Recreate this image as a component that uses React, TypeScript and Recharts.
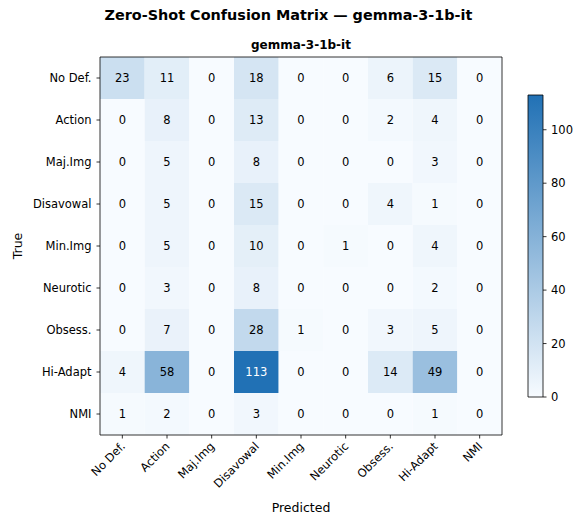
import React from 'react';
import { ComposedChart, XAxis, YAxis, ReferenceArea, Scatter } from 'recharts';

const classes = ['No Def.', 'Action', 'Maj.Img', 'Disavowal', 'Min.Img', 'Neurotic', 'Obsess.', 'Hi-Adapt', 'NMI'];

const rowNoDef = [23, 11, 0, 18, 0, 0, 6, 15, 0];
const rowAction = [0, 8, 0, 13, 0, 0, 2, 4, 0];
const rowMajImg = [0, 5, 0, 8, 0, 0, 0, 3, 0];
const rowDisavowal = [0, 5, 0, 15, 0, 0, 4, 1, 0];
const rowMinImg = [0, 5, 0, 10, 0, 1, 0, 4, 0];
const rowNeurotic = [0, 3, 0, 8, 0, 0, 0, 2, 0];
const rowObsess = [0, 7, 0, 28, 1, 0, 3, 5, 0];
const rowHiAdapt = [4, 58, 0, 113, 0, 0, 14, 49, 0];
const rowNMI = [1, 2, 0, 3, 0, 0, 0, 1, 0];

const matrix = [rowNoDef, rowAction, rowMajImg, rowDisavowal, rowMinImg, rowNeurotic, rowObsess, rowHiAdapt, rowNMI];
const colorbarTicks = [0, 20, 40, 60, 80, 100];
const vmax = 113;
const colorbarExtent = [{ x: 0, y: 0 }, { x: 1, y: vmax }];

const W = 577;
const H = 519;
const plotLeft = 100;
const plotRight = 502;
const plotTop = 57;
const plotBottom = 435;
const cbLeft = 528;
const cbRight = 543;
const cbTop = 95;
const cbBottom = 397;

const FONT = 'DejaVu Sans, Verdana, sans-serif';
const TICK_FS = 11.5;
const lowColor = [247, 251, 255];
const highColor = [33, 113, 181];

function colorFor(v: number) {
  const t = Math.max(0, Math.min(1, v / vmax));
  const c = lowColor.map((l, i) => Math.round(l + (highColor[i] - l) * t));
  return `rgb(${c[0]},${c[1]},${c[2]})`;
}

const cells = matrix.flatMap((row, i) => row.map((v, j) => ({ x: j, y: i, v })));
const indices = classes.map((_, i) => i);

const XTick = (props: any) => {
  const { x, payload } = props;
  const ax = x + 3.5;
  const ay = plotBottom + 12;
  return (
    <text x={ax} y={ay} textAnchor="end" fontSize={TICK_FS} fontFamily={FONT} fill="#000"
      transform={`rotate(-45, ${ax}, ${ay})`}>
      {classes[payload.value]}
    </text>
  );
};

const YTick = (props: any) => {
  const { y, payload } = props;
  return (
    <text x={plotLeft - 8.5} y={y} textAnchor="end" dominantBaseline="central" fontSize={TICK_FS} fontFamily={FONT} fill="#000">
      {classes[payload.value]}
    </text>
  );
};

const CbTick = (props: any) => {
  const { y, payload } = props;
  return (
    <text x={cbRight + 8} y={y} textAnchor="start" dominantBaseline="central" fontSize={TICK_FS} fontFamily={FONT} fill="#000">
      {payload.value}
    </text>
  );
};

const CellLabel = (props: any) => {
  const { cx, cy, payload } = props;
  return (
    <text x={cx} y={cy} textAnchor="middle" dominantBaseline="central" fontSize={TICK_FS} fontFamily={FONT}
      fill={payload.v > 70 ? '#fff' : '#000'}>
      {payload.v}
    </text>
  );
};

const Nothing = () => <g />;

export default function App() {
  return (
    <div style={{ position: 'absolute', left: 0, top: 0, width: W, height: H, background: '#fff', fontFamily: FONT }}>
      <div style={{ position: 'absolute', left: 0, top: 0 }}>
        <ComposedChart width={W} height={H}
          margin={{ top: plotTop, left: 0, right: W - plotRight, bottom: 0 }}>
          <XAxis type="number" dataKey="x" domain={[-0.5, 8.5]} ticks={indices} height={H - plotBottom}
            axisLine={false} tickSize={3.5} tickLine={{ stroke: '#000', strokeWidth: 0.8 }} tick={<XTick />}
            interval={0} allowDataOverflow />
          <YAxis type="number" dataKey="y" domain={[-0.5, 8.5]} ticks={indices} reversed width={plotLeft}
            axisLine={false} tickSize={3.5} tickLine={{ stroke: '#000', strokeWidth: 0.8 }} tick={<YTick />}
            interval={0} allowDataOverflow />
          {cells.map((c) => (
            <ReferenceArea key={`${c.x}-${c.y}`} x1={c.x - 0.5} x2={c.x + 0.5} y1={c.y - 0.5} y2={c.y + 0.5}
              fill={colorFor(c.v)} fillOpacity={1} stroke="none" ifOverflow="visible" />
          ))}
          <ReferenceArea x1={-0.5} x2={8.5} y1={-0.5} y2={8.5} fill="none" stroke="#000" strokeWidth={0.8} ifOverflow="visible" />
          <Scatter data={cells} isAnimationActive={false} shape={<CellLabel />} />
        </ComposedChart>
      </div>
      <div style={{ position: 'absolute', left: 0, top: 0 }}>
        <ComposedChart width={W} height={H}
          margin={{ top: cbTop, left: cbLeft, right: 0, bottom: 0 }}>
          <defs>
            <linearGradient id="cbGrad" x1="0" y1="1" x2="0" y2="0">
              <stop offset="0%" stopColor={colorFor(0)} />
              <stop offset="100%" stopColor={colorFor(vmax)} />
            </linearGradient>
          </defs>
          <XAxis type="number" dataKey="x" domain={[0, 1]} height={H - cbBottom} tick={false} axisLine={false} tickLine={false} />
          <YAxis type="number" dataKey="y" domain={[0, vmax]} ticks={colorbarTicks} orientation="right"
            width={W - cbRight} axisLine={false} tickSize={3.5} tickLine={{ stroke: '#000', strokeWidth: 0.8 }}
            tick={<CbTick />} interval={0} allowDataOverflow />
          <ReferenceArea x1={0} x2={1} y1={0} y2={vmax} fill="url(#cbGrad)" fillOpacity={1} stroke="#000" strokeWidth={0.8} ifOverflow="visible" />
          <Scatter data={colorbarExtent} isAnimationActive={false} shape={<Nothing />} />
        </ComposedChart>
      </div>
      <svg width={W} height={H} style={{ position: 'absolute', left: 0, top: 0, pointerEvents: 'none' }}>
        <text x={288.5} y={15} textAnchor="middle" dominantBaseline="central" fontSize={14.4} fontWeight="bold" fontFamily={FONT} fill="#000">
          Zero-Shot Confusion Matrix — gemma-3-1b-it
        </text>
        <text x={(plotLeft + plotRight) / 2} y={45} textAnchor="middle" dominantBaseline="central" fontSize={12} fontWeight="bold" fontFamily={FONT} fill="#000">
          gemma-3-1b-it
        </text>
        <text x={(plotLeft + plotRight) / 2} y={507} textAnchor="middle" dominantBaseline="central" fontSize={12.5} fontFamily={FONT} fill="#000">
          Predicted
        </text>
        <text x={17} y={246} textAnchor="middle" dominantBaseline="central" fontSize={12.5} fontFamily={FONT} fill="#000"
          transform="rotate(-90, 17, 246)">
          True
        </text>
      </svg>
    </div>
  );
}
